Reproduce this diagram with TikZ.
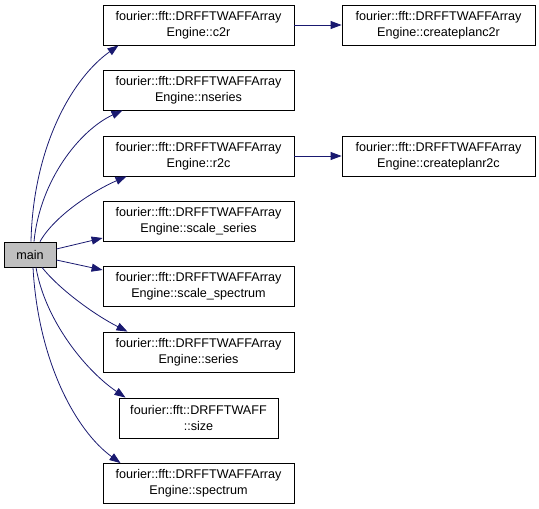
\documentclass[tikz,border=0pt]{standalone}
\usepackage{fontspec}
\setmainfont{Liberation Sans}
\usetikzlibrary{arrows.meta}
\definecolor{edgeblue}{HTML}{191970}
\tikzset{
  fnbox/.style={draw=black, line width=0.8pt, fill=white, align=center, inner sep=0pt,
    minimum width=191pt, minimum height=40pt, font=\fontsize{12.6}{16}\selectfont},
  mainbox/.style={fnbox, fill=gray!50, minimum width=52pt, minimum height=25pt},
  call/.style={-{Triangle[length=11pt,width=8pt]}, color=edgeblue, line width=0.8pt}
}
\begin{document}
\begin{tikzpicture}[x=1pt,y=-1pt]
  \useasboundingbox (0,0) rectangle (539,509);

  \node[mainbox] (main) at (30,254.5) {main};

  \node[fnbox] (c2r)      at (198.5,25)  {fourier::fft::DRFFTWAFFArray\\Engine::c2r};
  \node[fnbox] (nseries)  at (198.5,90)  {fourier::fft::DRFFTWAFFArray\\Engine::nseries};
  \node[fnbox] (r2c)      at (198.5,156) {fourier::fft::DRFFTWAFFArray\\Engine::r2c};
  \node[fnbox] (sseries)  at (198.5,221) {fourier::fft::DRFFTWAFFArray\\Engine::scale\_series};
  \node[fnbox] (sspec)    at (198.5,286.5) {fourier::fft::DRFFTWAFFArray\\Engine::scale\_spectrum};
  \node[fnbox] (series)   at (198.5,352) {fourier::fft::DRFFTWAFFArray\\Engine::series};
  \node[fnbox, minimum width=159pt] (size) at (198.5,418) {fourier::fft::DRFFTWAFF\\::size};
  \node[fnbox] (spectrum) at (198.5,483.5) {fourier::fft::DRFFTWAFFArray\\Engine::spectrum};

  \node[fnbox, minimum width=193pt] (planc2r) at (438.5,25)  {fourier::fft::DRFFTWAFFArray\\Engine::createplanc2r};
  \node[fnbox, minimum width=193pt] (planr2c) at (438.5,156) {fourier::fft::DRFFTWAFFArray\\Engine::createplanr2c};

  \draw[call] ([xshift=1pt]main.north) .. controls (33,150) and (70,80) .. ([xshift=-80pt]c2r.south);
  \draw[call] ([xshift=4pt]main.north) .. controls (40,180) and (80,130) .. ([xshift=-76pt]nseries.south);
  \draw[call] ([xshift=10pt]main.north) .. controls (55,215) and (95,190) .. ([xshift=-72pt]r2c.south);
  \draw[call] ([yshift=5.5pt]main.east) -- ([yshift=-17pt]sseries.west);
  \draw[call] ([yshift=-5.5pt]main.east) -- ([yshift=16.5pt]sspec.west);
  \draw[call] ([xshift=12pt]main.south) .. controls (60,290) and (95,315) .. ([xshift=-71pt]series.north);
  \draw[call] ([xshift=6pt]main.south) .. controls (45,320) and (85,370) .. ([xshift=-73pt]size.north);
  \draw[call] ([xshift=3pt]main.south) .. controls (38,360) and (75,430) .. ([xshift=-78pt]spectrum.north);

  \draw[call] (c2r) -- (planc2r);
  \draw[call] (r2c) -- (planr2c);
\end{tikzpicture}
\end{document}
